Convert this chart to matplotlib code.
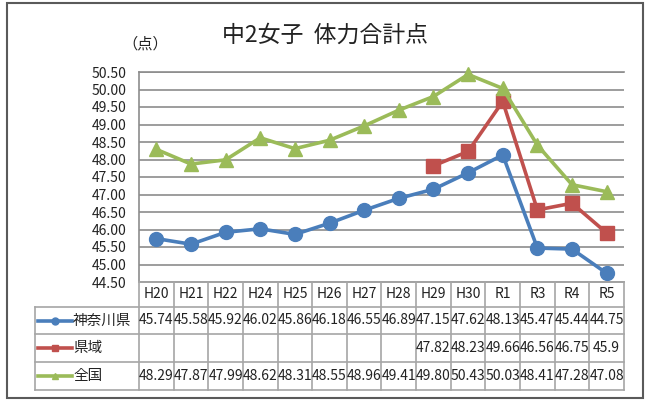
import numpy as np
import matplotlib
matplotlib.use('Agg')
import matplotlib.pyplot as plt
import matplotlib.transforms as mtransforms
from matplotlib.lines import Line2D
from matplotlib.patches import Rectangle

plt.rcParams['font.family'] = ['Noto Sans CJK JP', 'DejaVu Sans']

years = ['H20', 'H21', 'H22', 'H24', 'H25', 'H26', 'H27', 'H28', 'H29', 'H30', 'R1', 'R3', 'R4', 'R5']
kanagawa = [45.74, 45.58, 45.92, 46.02, 45.86, 46.18, 46.55, 46.89, 47.15, 47.62, 48.13, 45.47, 45.44, 44.75]
kenki = [None, None, None, None, None, None, None, None, 47.82, 48.23, 49.66, 46.56, 46.75, 45.9]
zenkoku = [48.29, 47.87, 47.99, 48.62, 48.31, 48.55, 48.96, 49.41, 49.80, 50.43, 50.03, 48.41, 47.28, 47.08]
kanagawa_txt = ['45.74', '45.58', '45.92', '46.02', '45.86', '46.18', '46.55', '46.89', '47.15', '47.62', '48.13', '45.47', '45.44', '44.75']
kenki_txt = ['', '', '', '', '', '', '', '', '47.82', '48.23', '49.66', '46.56', '46.75', '45.9']
zenkoku_txt = ['48.29', '47.87', '47.99', '48.62', '48.31', '48.55', '48.96', '49.41', '49.80', '50.43', '50.03', '48.41', '47.28', '47.08']

series = [
    ('神奈川県', kanagawa, kanagawa_txt, '#4a7ebb', 'o', 10),
    ('県域', kenki, kenki_txt, '#c0504d', 's', 10),
    ('全国', zenkoku, zenkoku_txt, '#9bbb59', '^', 10),
]

W, H = 646, 401
fig = plt.figure(figsize=(W / 100, H / 100), dpi=100)


def fy(py):
    # pixel row -> figure fraction
    return 1 - py / H


ax = fig.add_axes([139 / W, fy(282), (624 - 139) / W, (282 - 72) / H])
x = np.arange(len(years))

for name, vals, txt, col, mk, ms in series:
    v = np.array([np.nan if a is None else a for a in vals], dtype=float)
    ax.plot(x, v, color=col, marker=mk, markersize=ms, linewidth=2.6, clip_on=False, zorder=3)

ax.set_xlim(-0.5, len(years) - 0.5)
ax.set_ylim(44.5, 50.5)
ax.set_yticks(np.arange(44.5, 50.51, 0.5))
ax.set_yticklabels([f'{t:.2f}' for t in np.arange(44.5, 50.51, 0.5)])
ax.set_xticks([])
ax.tick_params(axis='y', length=0, pad=9, labelsize=10, colors='#222222')
ax.grid(axis='y', color='#8c8c8c', linewidth=1.2)
for s in ['top', 'bottom']:
    ax.spines[s].set_color('#8c8c8c')
    ax.spines[s].set_linewidth(1.2)
ax.spines['right'].set_visible(False)
ax.spines['left'].set_color('#8c8c8c')
ax.spines['left'].set_linewidth(1.2)

# data table below the plot
tr = mtransforms.blended_transform_factory(ax.transData, fig.transFigure)
lc = '#a6a6a6'
rows_y = [282, 307, 334, 362, 390]
x0, x1 = -0.5, len(years) - 0.5
xl = -3.5

for i, ry in enumerate(rows_y):
    left = xl if i >= 1 else x0
    fig.add_artist(Line2D([left, x1], [fy(ry), fy(ry)], transform=tr, color=lc, linewidth=1.2))
for k in range(len(years) + 1):
    fig.add_artist(Line2D([x0 + k, x0 + k], [fy(282), fy(390)], transform=tr, color=lc, linewidth=1.2))
fig.add_artist(Line2D([xl, xl], [fy(307), fy(390)], transform=tr, color=lc, linewidth=1.2))

for j, yr in enumerate(years):
    fig.text(j, fy(294.5), yr, transform=tr, ha='center', va='center', fontsize=10, color='#222222')

for i, (name, vals, txt, col, mk, ms) in enumerate(series):
    yc = fy((rows_y[i + 1] + rows_y[i + 2]) / 2)
    fig.add_artist(Line2D([-3.42, -2.44], [yc, yc], transform=tr, color=col, linewidth=2.6))
    fig.add_artist(Line2D([-2.93], [yc], transform=tr, color=col, marker=mk, markersize=5))
    fig.text(-2.4, yc, name, transform=tr, ha='left', va='center', fontsize=10.5, color='#222222')
    for j, t in enumerate(txt):
        fig.text(j, yc, t, transform=tr, ha='center', va='center', fontsize=10, color='#222222')

fig.text(325 / W, fy(35), '中2女子  体力合計点', ha='center', va='center', fontsize=16.5, color='#222222')
fig.text(145 / W, fy(44), '（点）', ha='center', va='center', fontsize=11, color='#222222')

fig.add_artist(Rectangle((7 / W, fy(398)), 636 / W, 395 / H, transform=fig.transFigure,
                         fill=False, edgecolor='#5a5a5a', linewidth=1.5))

fig.savefig('out.png', dpi=100)
